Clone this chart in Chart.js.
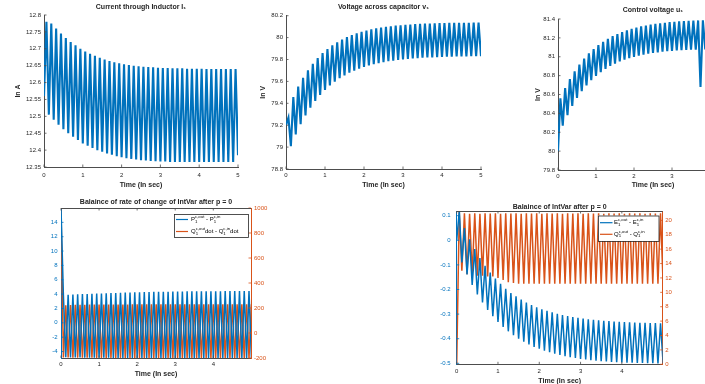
<!DOCTYPE html>
<html><head><meta charset="utf-8">
<script src="https://cdn.jsdelivr.net/npm/chart.js@4.4.0/dist/chart.umd.min.js"></script>
<style>
html,body{margin:0;padding:0;background:#fff;overflow:hidden;width:705px;height:384px;}
#wrap{position:relative;width:705px;height:384px;overflow:hidden;background:#fff;}
canvas{position:absolute;}
</style></head><body><div id="wrap">
<canvas id="c1" width="250" height="195" style="left:0px;top:0px"></canvas>
<canvas id="c2" width="250" height="195" style="left:245px;top:0px"></canvas>
<canvas id="c3" width="238" height="195" style="left:520px;top:0px"></canvas>
<canvas id="c4" width="240" height="189" style="left:30px;top:195px"></canvas>
<canvas id="c5" width="265" height="197" style="left:420px;top:195px"></canvas>
</div>
<script>
// ---------- data ----------
const time = [0,0.0625,0.125,0.1875,0.25,0.3125,0.375,0.4375,0.5,0.5625,0.625,0.6875,0.75,0.8125,0.875,0.9375,
1,1.0625,1.125,1.1875,1.25,1.3125,1.375,1.4375,1.5,1.5625,1.625,1.6875,1.75,1.8125,1.875,1.9375,
2,2.0625,2.125,2.1875,2.25,2.3125,2.375,2.4375,2.5,2.5625,2.625,2.6875,2.75,2.8125,2.875,2.9375,
3,3.0625,3.125,3.1875,3.25,3.3125,3.375,3.4375,3.5,3.5625,3.625,3.6875,3.75,3.8125,3.875,3.9375,
4,4.0625,4.125,4.1875,4.25,4.3125,4.375,4.4375,4.5,4.5625,4.625,4.6875,4.75,4.8125,4.875,4.9375,5];

const currentPeaks = [12.78,12.775,12.76,12.745,12.732,12.72,12.71,12.7,12.692,12.685,
12.679,12.673,12.668,12.664,12.66,12.657,12.654,12.652,12.65,12.648,
12.647,12.646,12.645,12.644,12.643,12.643,12.642,12.642,12.642,12.641,
12.641,12.641,12.641,12.64,12.64,12.64,12.64,12.64,12.64,12.64];
const currentTroughs = [12.56,12.505,12.49,12.475,12.462,12.45,12.44,12.43,12.42,12.413,
12.406,12.4,12.395,12.39,12.386,12.382,12.379,12.376,12.374,12.372,
12.37,12.369,12.368,12.367,12.366,12.366,12.365,12.365,12.365,12.365,
12.365,12.365,12.365,12.365,12.365,12.365,12.365,12.365,12.365,12.365,12.385];

const voltagePeaks = [79.27,79.458,79.552,79.632,79.702,79.761,79.813,79.858,79.896,79.93,
79.958,79.983,80.005,80.023,80.039,80.053,80.065,80.075,80.084,80.092,
80.098,80.104,80.109,80.113,80.117,80.12,80.123,80.125,80.127,80.129,
80.13,80.132,80.133,80.134,80.135,80.135,80.136,80.136,80.137,80.137];
const voltageTroughs = [79.2,79.009,79.116,79.209,79.29,79.36,79.422,79.476,79.522,79.563,
79.598,79.629,79.655,79.679,79.699,79.717,79.732,79.745,79.757,79.767,
79.776,79.784,79.79,79.796,79.801,79.806,79.809,79.813,79.816,79.818,
79.82,79.822,79.824,79.825,79.826,79.827,79.828,79.829,79.83,79.83,79.83];

const controlPeaks = [80.56,80.669,80.764,80.846,80.918,80.981,81.035,81.082,81.124,81.159,
81.191,81.218,81.241,81.262,81.28,81.295,81.309,81.321,81.331,81.34,
81.348,81.355,81.36,81.366,81.37,81.374,81.377,81.38,81.383,81.385,
81.387,81.389,81.39,81.391,81.392,81.393,81.394,81.394,81.395,81.395];
const controlTroughs = [80.0,80.27,80.382,80.479,80.563,80.635,80.697,80.751,80.797,80.837,
80.872,80.902,80.928,80.95,80.969,80.985,80.999,81.012,81.023,81.032,
81.04,81.047,81.053,81.058,81.062,81.066,81.069,81.072,81.074,81.076,
80.68,81.079,81.08,81.081,81.082,81.083,81.083,81.084,81.084,81.085,81.085];

const powerPeaks = [3.9,3.92,3.95,3.98,4.0,4.03,4.06,4.08,4.1,4.13,
4.15,4.17,4.19,4.21,4.23,4.25,4.27,4.28,4.3,4.31,
4.32,4.33,4.34,4.35,4.36,4.37,4.38,4.38,4.39,4.39,
4.4,4.4,4.41,4.41,4.42,4.42,4.42,4.43,4.43,4.43];
const powerTroughs = [16,-4.8,-4.82,-4.83,-4.84,-4.85,-4.86,-4.86,-4.87,-4.87,
-4.87,-4.88,-4.88,-4.88,-4.88,-4.88,-4.88,-4.88,-4.89,-4.89,
-4.89,-4.89,-4.89,-4.89,-4.89,-4.89,-4.89,-4.89,-4.89,-4.89,
-4.9,-4.9,-4.9,-4.9,-4.9,-4.9,-4.9,-4.9,-4.9,-4.9,-4.9];

// Qdot balance: highs fall between the power peaks (half a cycle shifted)
const qdotHighs = [1000,222,224,225,226,226,227,227,227,228,
228,228,228,228,228,229,229,229,229,229,
229,229,229,229,229,229,229,229,229,229,
229,229,229,229,229,229,229,229,229,229,229];
const qdotLows = [-195,-196,-197,-197,-198,-198,-198,-199,-199,-199,
-199,-199,-199,-200,-200,-200,-200,-200,-200,-200,
-200,-200,-200,-200,-200,-200,-200,-200,-200,-200,
-200,-200,-200,-200,-200,-200,-200,-200,-200,-200];

const energyPeaks = [0.119,0.05,0.004,-0.036,-0.072,-0.104,-0.131,-0.156,-0.177,-0.197,
-0.214,-0.228,-0.241,-0.253,-0.263,-0.272,-0.28,-0.287,-0.293,-0.299,
-0.304,-0.308,-0.312,-0.315,-0.318,-0.321,-0.323,-0.325,-0.327,-0.328,
-0.33,-0.331,-0.332,-0.333,-0.334,-0.335,-0.335,-0.336,-0.336,-0.337];
const energyTroughs = [0,-0.09,-0.139,-0.182,-0.22,-0.253,-0.283,-0.309,-0.332,-0.352,
-0.37,-0.386,-0.4,-0.412,-0.423,-0.433,-0.441,-0.449,-0.455,-0.461,
-0.466,-0.471,-0.475,-0.478,-0.482,-0.484,-0.487,-0.489,-0.491,-0.492,
-0.494,-0.495,-0.496,-0.497,-0.498,-0.499,-0.499,-0.5,-0.5,-0.501,-0.501];

const chargePeaks = [21.2,21.0,20.9,21.0,20.9,21.0,20.95,21.0,20.9,21.0,
20.95,21.0,20.9,21.0,20.95,21.0,20.9,21.0,20.95,21.0,
20.9,21.0,20.95,21.0,20.9,21.0,20.95,21.0,20.9,21.0,
20.95,21.0,20.9,21.0,20.95,21.0,20.9,21.0,20.95,21.0];
const chargeTroughs = [0,13.0,12.5,12.4,12.3,12.3,12.2,12.2,12.0,11.7,
11.4,11.3,11.2,11.2,11.2,11.2,11.2,11.2,11.2,11.2,
11.2,11.2,11.2,11.2,11.2,11.2,11.2,11.2,11.2,11.2,
11.2,11.2,11.2,11.2,11.2,11.2,11.2,11.2,11.2,11.2,11.2];

const timeTicksTop = [0,1,2,3,4,5];
const timeTicksBottom = [0,1,2,3,4];
const currentTicks = [12.35,12.4,12.45,12.5,12.55,12.6,12.65,12.7,12.75,12.8];
const voltageTicks = [78.8,79,79.2,79.4,79.6,79.8,80,80.2];
const controlTicks = [79.8,80,80.2,80.4,80.6,80.8,81,81.2,81.4];
const powerTicks = [-4,-2,0,2,4,6,8,10,12,14];
const qdotTicks = [-200,0,200,400,600,800,1000];
const energyTicks = [-0.5,-0.4,-0.3,-0.2,-0.1,0,0.1];
const chargeTicks = [0,2,4,6,8,10,12,14,16,18,20];

// ---------- helpers ----------
const BLUE = '#0072BD', ORANGE = '#D95319', AXIS = '#4d4d4d', TXT = '#262626';
const FAMILY = "'Liberation Sans', Arial, 'DejaVu Sans', sans-serif";

// odd sample positions take `odd`, even positions take `even`
function wave(odd, even) {
  const pts = [];
  for (let i = 0; i < time.length; i++) {
    const y = (i % 2 === 0) ? even[i / 2] : odd[(i - 1) / 2];
    pts.push({x: time[i], y: y});
  }
  return pts;
}

function parseTex(s) {
  const out = []; let i = 0; let buf = '';
  const flush = () => { if (buf) { out.push({t: buf, k: 0}); buf = ''; } };
  while (i < s.length) {
    const c = s[i];
    if (c === '_' || c === '^') {
      flush();
      let arg;
      if (s[i + 1] === '{') { const j = s.indexOf('}', i); arg = s.slice(i + 2, j); i = j + 1; }
      else { arg = s[i + 1]; i += 2; }
      out.push({t: arg, k: c === '_' ? -1 : 1});
    } else { buf += c; i++; }
  }
  flush();
  return out;
}
function drawTex(ctx, s, x, y, size) {
  const parts = parseTex(s);
  let cx = x, prevK = 0, scriptStart = 0, scriptW = 0;
  for (const p of parts) {
    if (p.k === 0) {
      ctx.font = size + 'px ' + FAMILY;
      ctx.fillText(p.t, cx, y);
      cx += ctx.measureText(p.t).width; prevK = 0;
    } else {
      const fs = size * 0.72;
      ctx.font = fs + 'px ' + FAMILY;
      const w = ctx.measureText(p.t).width;
      const stacked = prevK !== 0 && prevK !== p.k;
      const sx = stacked ? scriptStart : cx;
      ctx.fillText(p.t, sx, y + (p.k < 0 ? size * 0.32 : -size * 0.42));
      if (stacked) { cx = sx + Math.max(w, scriptW); }
      else { scriptStart = sx; scriptW = w; cx = sx + w; }
      prevK = p.k;
    }
  }
}

const inwardTicks = {
  id: 'inwardTicks',
  afterDatasetsDraw(chart, args, o) {
    const ctx = chart.ctx, a = chart.chartArea, len = 2.5;
    ctx.save(); ctx.lineWidth = 0.8;
    for (const id of Object.keys(chart.scales)) {
      const s = chart.scales[id];
      ctx.strokeStyle = s.options.border.color;
      for (const t of s.ticks) {
        const p = s.getPixelForValue(t.value);
        ctx.beginPath();
        if (s.isHorizontal()) {
          ctx.moveTo(p, a.bottom); ctx.lineTo(p, a.bottom - len);
          if (o.box) { ctx.moveTo(p, a.top); ctx.lineTo(p, a.top + len); }
        } else if (s.position === 'left') {
          ctx.moveTo(a.left, p); ctx.lineTo(a.left + len, p);
        } else {
          ctx.moveTo(a.right, p); ctx.lineTo(a.right - len, p);
        }
        ctx.stroke();
      }
    }
    if (o.box) {
      ctx.strokeStyle = AXIS; ctx.lineWidth = 1;
      ctx.beginPath(); ctx.moveTo(a.left, Math.round(a.top) + 0.5); ctx.lineTo(a.right, Math.round(a.top) + 0.5); ctx.stroke();
    }
    ctx.restore();
  }
};

const texLegend = {
  id: 'texLegend',
  afterDraw(chart, args, o) {
    if (!o || !o.box) return;
    const ctx = chart.ctx; ctx.save();
    const [x, y, w, h] = o.box;
    ctx.fillStyle = '#fff'; ctx.fillRect(x, y, w, h);
    ctx.strokeStyle = '#262626'; ctx.lineWidth = 0.8; ctx.strokeRect(x + 0.5, y + 0.5, w, h);
    chart.data.datasets.forEach((ds, i) => {
      const ry = o.rows[i];
      ctx.strokeStyle = ds.borderColor; ctx.lineWidth = 1.2;
      ctx.beginPath(); ctx.moveTo(o.swatch[0], ry); ctx.lineTo(o.swatch[1], ry); ctx.stroke();
      ctx.fillStyle = '#000'; ctx.textBaseline = 'middle'; ctx.textAlign = 'left';
      drawTex(ctx, ds.label, o.textX, ry, o.size);
    });
    ctx.restore();
  }
};

function xScale(c) {
  return {
    type: 'linear', position: 'bottom', min: 0, max: c.xMax,
    afterBuildTicks: s => { s.ticks = c.xTicks.map(v => ({value: v})); },
    afterFit: s => { s.height = c.xH; s.paddingLeft = 0; s.paddingRight = 0; },
    grid: {display: false, drawTicks: false},
    border: {color: AXIS, width: 1},
    ticks: {color: TXT, font: {family: FAMILY, size: 6}, padding: c.xTickPad, maxRotation: 0, autoSkip: false, callback: v => String(v)},
    title: {display: true, text: 'Time (In sec)', color: TXT, font: {family: FAMILY, size: 7, weight: 'bold'}, padding: {top: 0, bottom: c.xTitlePad}}
  };
}
function yScale(c) {
  const sc = {
    type: 'linear', position: c.pos || 'left', min: c.min, max: c.max,
    afterBuildTicks: s => { s.ticks = c.ticks.map(v => ({value: v})); },
    afterFit: s => { s.width = c.w; s.paddingTop = 0; s.paddingBottom = 0; },
    grid: {display: false, drawTicks: false},
    border: {color: c.axisColor || AXIS, width: 1},
    ticks: {color: c.color || TXT, font: {family: FAMILY, size: 6}, padding: c.pad, autoSkip: false, callback: v => String(v)}
  };
  if (c.title) sc.title = {display: true, text: c.title, color: TXT, font: {family: FAMILY, size: 7, weight: 'bold'}, padding: {top: c.titlePad, bottom: 0}};
  return sc;
}
function makeChart(id, c) {
  const datasets = c.series.map(s => ({
    label: s.label, data: s.data, borderColor: s.color, borderWidth: c.lw,
    pointRadius: 0, fill: false, tension: 0, yAxisID: s.axis || 'y'
  }));
  const scales = {x: xScale(c), y: yScale(c.y)};
  if (c.y2) scales.y2 = yScale(Object.assign({pos: 'right'}, c.y2));
  return new Chart(document.getElementById(id), {
    type: 'line',
    data: {datasets},
    options: {
      responsive: false, animation: false, devicePixelRatio: 1, events: [],
      layout: {padding: {left: 0, right: c.padRight, top: 0, bottom: 0}},
      scales,
      plugins: {
        legend: {display: false}, tooltip: {enabled: false},
        title: {display: true, text: c.title, fullSize: false, color: TXT,
          font: {family: FAMILY, size: 7, weight: 'bold', lineHeight: c.titleLH || 1.2},
          padding: {top: c.titleTop, bottom: c.titleBottom}},
        inwardTicks: {box: !!c.box},
        texLegend: c.legend || {}
      }
    },
    plugins: [inwardTicks, texLegend]
  });
}

// ---------- charts ----------
makeChart('c1', {
  title: 'Current through Inductor I\u2081', titleTop: 2.8, titleBottom: 3.8, padRight: 12, lw: 2.1,
  xMax: 5, xTicks: timeTicksTop, xH: 28, xTickPad: 4.4, xTitlePad: 5.8,
  y: {min: 12.35, max: 12.8, ticks: currentTicks, w: 44, pad: 3, title: 'In A', titlePad: 13.8},
  series: [{label: 'I1', data: wave(currentPeaks, currentTroughs), color: BLUE}]
});
makeChart('c2', {
  title: 'Voltage across capacitor v\u2081', titleTop: 3.3, titleBottom: 4.0, padRight: 14, lw: 2.1,
  xMax: 5, xTicks: timeTicksTop, xH: 26, xTickPad: 3.1, xTitlePad: 5.8,
  y: {min: 78.8, max: 80.2, ticks: voltageTicks, w: 41, pad: 3, title: 'In V', titlePad: 13.8},
  series: [{label: 'v1', data: wave(voltagePeaks, voltageTroughs), color: BLUE}]
});
makeChart('c3', {
  title: 'Control voltage u\u2081', titleTop: 5.8, titleBottom: 4.8, padRight: 10, lw: 2.1,
  xMax: 5, xTicks: timeTicksTop, xH: 25, xTickPad: 3.1, xTitlePad: 5.8,
  y: {min: 79.8, max: 81.4, ticks: controlTicks, w: 38, pad: 3, title: 'In V', titlePad: 13.8},
  series: [{label: 'u1', data: wave(controlPeaks, controlTroughs), color: BLUE}]
});
makeChart('c4', {
  title: 'Balaince of rate of change of IntVar after p = 0', titleTop: 2.5, titleBottom: 2.1, padRight: 0, lw: 1.5, box: true,
  xMax: 4.99, xTicks: timeTicksBottom, xH: 26, xTickPad: 2.4, xTitlePad: 5.3,
  y: {min: -4.9, max: 16, ticks: powerTicks, w: 31, pad: 3.5, color: BLUE, axisColor: BLUE},
  y2: {min: -200, max: 1000, ticks: qdotTicks, w: 19, pad: 3, color: ORANGE, axisColor: ORANGE},
  series: [
    {label: 'P_1^{c,out} - P_1^{c,in}', data: wave(powerPeaks, powerTroughs), color: BLUE},
    {label: 'Q_1^{c,out}dot - Q_1^{c,in}dot', data: wave(qdotLows, qdotHighs), color: ORANGE, axis: 'y2'}
  ],
  legend: {box: [144, 19, 74, 23], rows: [24.5, 36.5], swatch: [146, 158], textX: 161, size: 6}
});
makeChart('c5', {
  title: 'Balaince of IntVar after p = 0', titleTop: 9, titleBottom: 0, titleLH: 1.0, padRight: 0, lw: 1.5, box: true,
  xMax: 4.99, xTicks: timeTicksBottom, xH: 27.7, xTickPad: 3.8, xTitlePad: 6.5,
  y: {min: -0.504, max: 0.119, ticks: energyTicks, w: 36.7, pad: 6, color: BLUE, axisColor: BLUE},
  y2: {min: 0, max: 21.3, ticks: chargeTicks, w: 22.3, pad: 2.5, color: ORANGE, axisColor: ORANGE},
  series: [
    {label: 'E_1^{c,out} - E_1^{c,in}', data: wave(energyPeaks, energyTroughs), color: BLUE},
    {label: 'Q_1^{c,out} - Q_1^{c,in}', data: wave(chargePeaks, chargeTroughs), color: ORANGE, axis: 'y2'}
  ],
  legend: {box: [178, 20.5, 60.5, 25.5], rows: [27.7, 39.3], swatch: [180, 192.5], textX: 194, size: 6}
});
</script>
</body></html>
